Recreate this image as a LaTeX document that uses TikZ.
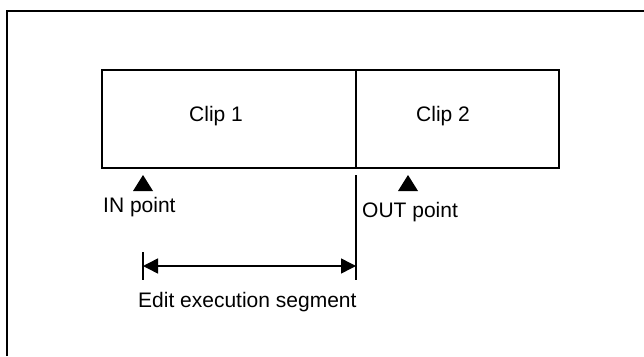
\documentclass[tikz,border=0pt]{standalone}
\usepackage{fontspec}
\setmainfont{Liberation Sans}
\usetikzlibrary{calc, positioning, arrows.meta}

\begin{document}
\begin{tikzpicture}[
  x=1pt, y=-1pt,
  clipbox/.style={draw, line width=1.3pt, minimum height=98pt, inner sep=0pt,
                  outer sep=0pt, anchor=north west},
  lbl/.style={font=\fontsize{21}{25}\selectfont, inner sep=0pt, anchor=base west},
  marker/.style={fill=black},
  thin line/.style={line width=1.5pt},
  >={Triangle[length=15pt, width=15pt]}
]
  \useasboundingbox (0,0) rectangle (644,356);

  % ── frame ──
  \draw[line width=2pt] (6.5,356) -- (6.5,11) -- (644,11);

  % ── clips ──
  \node[clipbox, minimum width=254pt] (clipa) at (102,70) {};
  \node[clipbox, minimum width=203pt] (clipb) at (clipa.north east) {};
  \node[lbl] (clipatext) at (189,121) {Clip 1};
  \node[lbl] (clipbtext) at (416,121) {Clip 2};

  % ── IN / OUT points ──
  \coordinate (intip) at (143,175);
  \coordinate (outtip) at (408,175);
  \fill[marker] (intip) -- ++(10,16) -- ++(-20,0) -- cycle;
  \fill[marker] (outtip) -- ++(10,16) -- ++(-20,0) -- cycle;
  \node[lbl] (inlabel) at (103,212) {IN point};
  \node[lbl] (outlabel) at (362,217) {OUT point};

  % ── edit execution segment ──
  \coordinate (outtop) at (356,175);
  \coordinate (outbot) at (356,280);
  \coordinate (ticktop) at (143,252);
  \coordinate (tickbot) at (143,280);
  \coordinate (segleft) at (143,266);
  \coordinate (segright) at (356,266);
  \draw[thin line] (outtop) -- (outbot);
  \draw[thin line] (ticktop) -- (tickbot);
  \draw[thin line, <->] (segleft) -- (segright);
  \node[lbl] (seglabel) at (138,307) {Edit execution segment};
\end{tikzpicture}
\end{document}
